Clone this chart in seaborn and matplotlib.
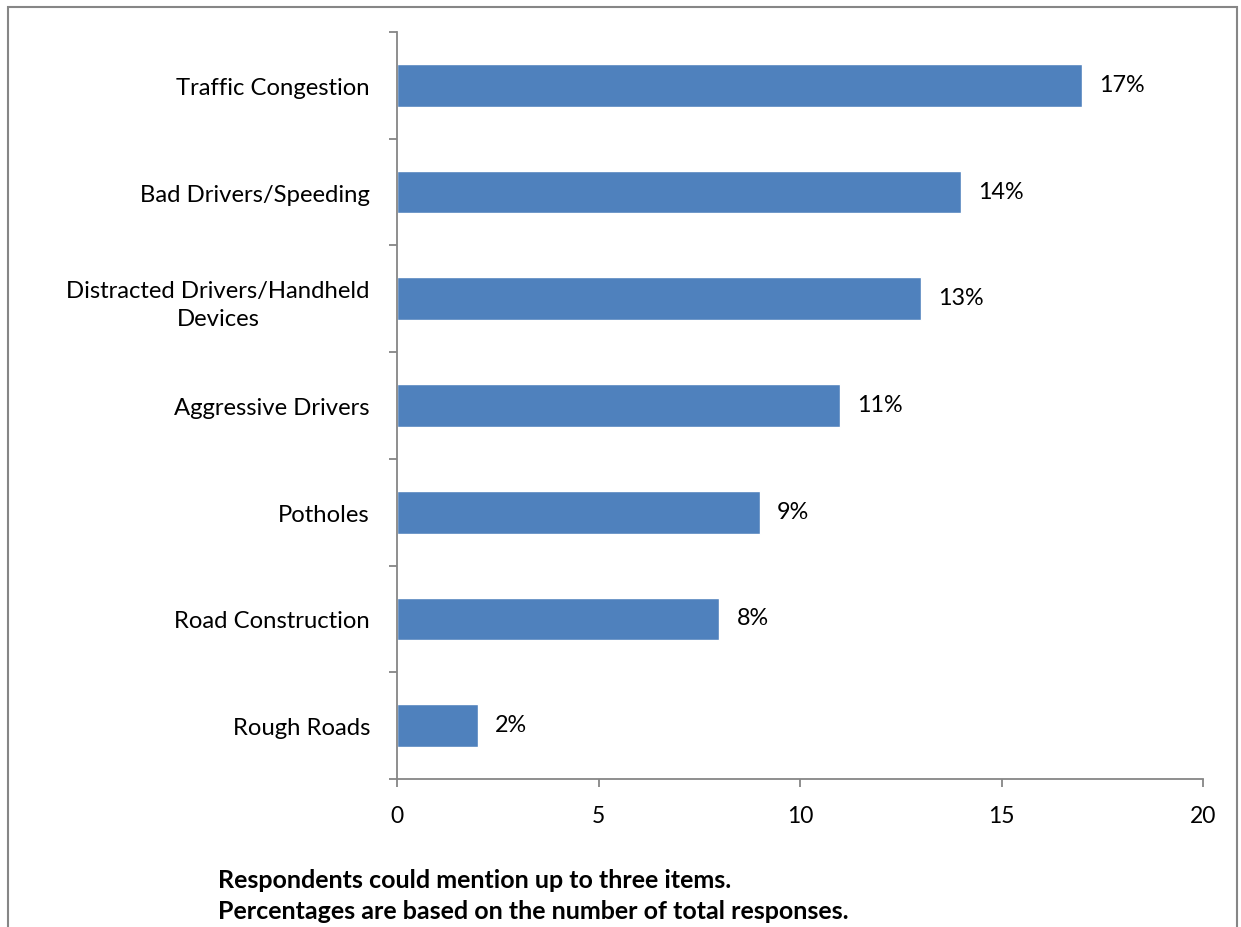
import matplotlib
matplotlib.use("Agg")
import matplotlib.pyplot as plt
import seaborn as sns
import pandas as pd
import numpy as np
from matplotlib.patches import Rectangle

categories = [
    "Traffic Congestion",
    "Bad Drivers/Speeding",
    "Distracted Drivers/Handheld\nDevices",
    "Aggressive Drivers",
    "Potholes",
    "Road Construction",
    "Rough Roads",
]
percentages = [17, 14, 13, 11, 9, 8, 2]
x_ticks = [0, 5, 10, 15, 20]
footnote_lines = [
    "Respondents could mention up to three items.",
    "Percentages are based on the number of total responses.",
]

sns.set_theme(style="white")
plt.rcParams["font.family"] = ["Lato", "DejaVu Sans"]
plt.rcParams["text.color"] = "black"

W, H = 1241, 928
fig = plt.figure(figsize=(W / 100, H / 100), dpi=100)
ax = fig.add_axes([397 / W, 1 - 780 / H, (1203 - 397) / W, (780 - 33) / H])

df = pd.DataFrame({"category": categories, "pct": percentages})
sns.barplot(data=df, x="pct", y="category", orient="h", color="#4F81BD",
            saturation=1, width=0.4, ax=ax)

grey = "#868686"
ax.set_xlim(0, 20)
ax.set_ylim(len(categories) - 0.5, -0.5)
ax.set_xticks(x_ticks)
ax.set_xticklabels([str(t) for t in x_ticks])
ax.set_xlabel("")
ax.set_ylabel("")

# Category boundaries carry the tick marks on the y axis
ax.set_yticks(np.arange(len(categories)))
ax.set_yticks(np.arange(-0.5, len(categories), 1.0), minor=True)
ax.tick_params(axis="y", which="major", length=0, pad=19.5, labelsize=17.2, labelcolor="black")
ax.tick_params(axis="y", which="minor", length=6, width=1.3, color=grey, left=True)
ax.tick_params(axis="x", which="major", length=6, width=1.3, color=grey, bottom=True,
               pad=12.5, labelsize=16.5, labelcolor="black")
for lbl in ax.get_yticklabels():
    lbl.set_horizontalalignment("right")
    lbl.set_multialignment("center")
    lbl.set_linespacing(1.45)

for side in ["top", "right"]:
    ax.spines[side].set_visible(False)
for side in ["left", "bottom"]:
    ax.spines[side].set_color(grey)
    ax.spines[side].set_linewidth(1.3)

# Value labels next to each bar
for i, v in enumerate(percentages):
    ax.annotate(f"{v}%", xy=(v, i), xytext=(17, 1), textcoords="offset pixels",
                ha="left", va="center", fontsize=16.8, color="black")

# Footnote
fig.text(218 / W, 1 - 881 / H, footnote_lines[0], fontsize=18, fontweight="bold",
         ha="left", va="center", color="black")
fig.text(218 / W, 1 - 912 / H, footnote_lines[1], fontsize=18, fontweight="bold",
         ha="left", va="center", color="black")

# Outer chart frame
fig.patches.append(Rectangle((8 / W, -0.05), (1237 - 8) / W, 1.05 - 7.5 / H,
                             transform=fig.transFigure, fill=False,
                             edgecolor=grey, linewidth=1.5))

fig.savefig("out.png", dpi=100)
